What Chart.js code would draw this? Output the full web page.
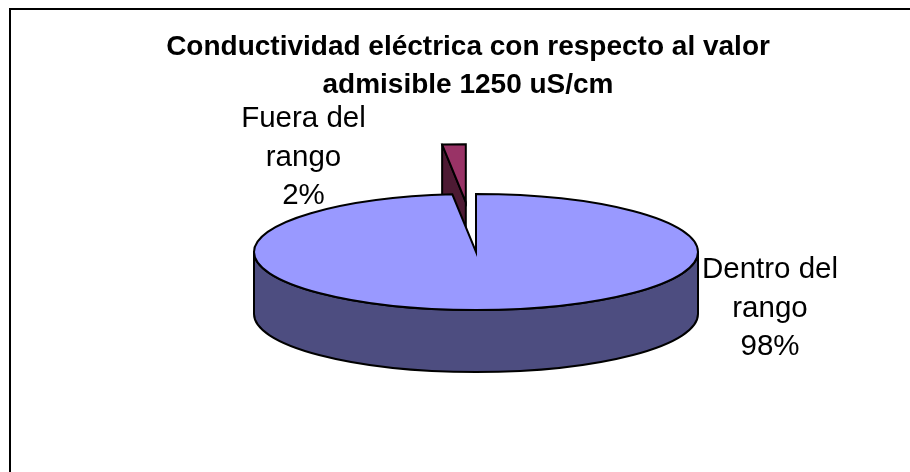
<!DOCTYPE html>
<html>
<head>
<meta charset="utf-8">
<style>
  html, body { margin: 0; padding: 0; background: #fff; }
  #chart { display: block; }
</style>
<script src="https://cdn.jsdelivr.net/npm/chart.js@4/dist/chart.umd.min.js"></script>
</head>
<body>
<canvas id="chart" width="910" height="472"></canvas>
<script>
const titleLines = ['Conductividad eléctrica con respecto al valor', 'admisible 1250 uS/cm'];
const sliceLabels = ['Dentro del rango', 'Fuera del rango'];
const sliceValues = [98.3, 1.7];
const topColors = ['#9999FF', '#993366'];
const sideColors = ['#4D4D80', '#4D1A33'];
const labelLines = [['Dentro del', 'rango', '98%'], ['Fuera del', 'rango', '2%']];

// fake 3D: the flat pie gets squashed onto this ellipse
const pie3d = { cx: 476, cy: 252, rx: 222, ry: 58, depth: 62 };
const explode = [0, 0.86];
const labelPos = [{ x: 770, y: 278 }, { x: 303.5, y: 127 }];

function faceCenter(arc, i) {
    const mid = (arc.startAngle + arc.endAngle) / 2;
    return {
        cx: pie3d.cx + Math.cos(mid) * explode[i] * pie3d.rx,
        cy: pie3d.cy + Math.sin(mid) * explode[i] * pie3d.ry
    };
}

const pie3dPlugin = {
    id: 'pie3d',
    beforeDatasetDraw(chart, args) {
        const ctx = chart.ctx;
        const arcs = args.meta.data;
        // exploded slice goes first, the big one covers it
        [1, 0].forEach(i => {
            const arc = arcs[i];
            const { cx, cy } = faceCenter(arc, i);
            const a0 = arc.startAngle, a1 = arc.endAngle;
            const px = a => cx + Math.cos(a) * pie3d.rx;
            const py = a => cy + Math.sin(a) * pie3d.ry;

            // side walls
            ctx.save();
            ctx.fillStyle = sideColors[i];
            ctx.strokeStyle = '#000';
            ctx.lineWidth = 2;
            ctx.lineJoin = 'round';
            ctx.beginPath();
            if (i === 0) {
                ctx.ellipse(cx, cy, pie3d.rx, pie3d.ry, 0, 0, Math.PI);
                ctx.lineTo(cx - pie3d.rx, cy + pie3d.depth);
                ctx.ellipse(cx, cy + pie3d.depth, pie3d.rx, pie3d.ry, 0, Math.PI, 0, true);
                ctx.closePath();
            } else {
                ctx.moveTo(px(a0), py(a0));
                ctx.lineTo(cx, cy);
                ctx.lineTo(cx, cy + pie3d.depth);
                ctx.lineTo(px(a0), py(a0) + pie3d.depth);
                ctx.closePath();
            }
            ctx.fill();
            ctx.stroke();
            ctx.restore();

            // top face, drawn by the arc itself
            const sx = pie3d.rx / arc.outerRadius, sy = pie3d.ry / arc.outerRadius;
            ctx.save();
            ctx.translate(cx, cy);
            ctx.scale(sx, sy);
            ctx.translate(-arc.x, -arc.y);
            arc.draw(ctx);
            ctx.restore();

            // outline in pixel space so the line keeps its width
            ctx.save();
            ctx.strokeStyle = '#000';
            ctx.lineWidth = 2;
            ctx.lineJoin = 'miter';
            ctx.beginPath();
            ctx.moveTo(cx, cy);
            ctx.ellipse(cx, cy, pie3d.rx, pie3d.ry, 0, a0, a1);
            ctx.closePath();
            ctx.stroke();
            ctx.restore();
        });
        return false;
    },
    afterDraw(chart) {
        const ctx = chart.ctx;
        ctx.save();
        // only the top and left edges of the frame are in the picture
        ctx.strokeStyle = '#000';
        ctx.lineWidth = 2;
        ctx.beginPath();
        ctx.moveTo(10, 472);
        ctx.lineTo(10, 9);
        ctx.lineTo(910, 9);
        ctx.stroke();
        ctx.fillStyle = '#000';
        ctx.font = '29.5px "Liberation Sans"';
        ctx.textAlign = 'center';
        ctx.textBaseline = 'alphabetic';
        labelLines.forEach((lines, i) => {
            lines.forEach((line, j) => {
                ctx.fillText(line, labelPos[i].x, labelPos[i].y + j * 38.5);
            });
        });
        ctx.restore();
    }
};

new Chart(document.getElementById('chart'), {
    type: 'pie',
    data: {
        labels: sliceLabels,
        datasets: [{
            data: sliceValues,
            backgroundColor: topColors,
            borderWidth: 0
        }]
    },
    options: {
        responsive: false,
        animation: false,
        layout: { padding: { left: 26 } },
        plugins: {
            legend: { display: false },
            tooltip: { enabled: false },
            title: {
                display: true,
                text: titleLines,
                color: '#000',
                font: { family: '"Liberation Sans"', size: 28, weight: 'bold', lineHeight: 1.357 },
                padding: { top: 28, bottom: 0 }
            }
        }
    },
    plugins: [pie3dPlugin]
});
</script>
</body>
</html>
